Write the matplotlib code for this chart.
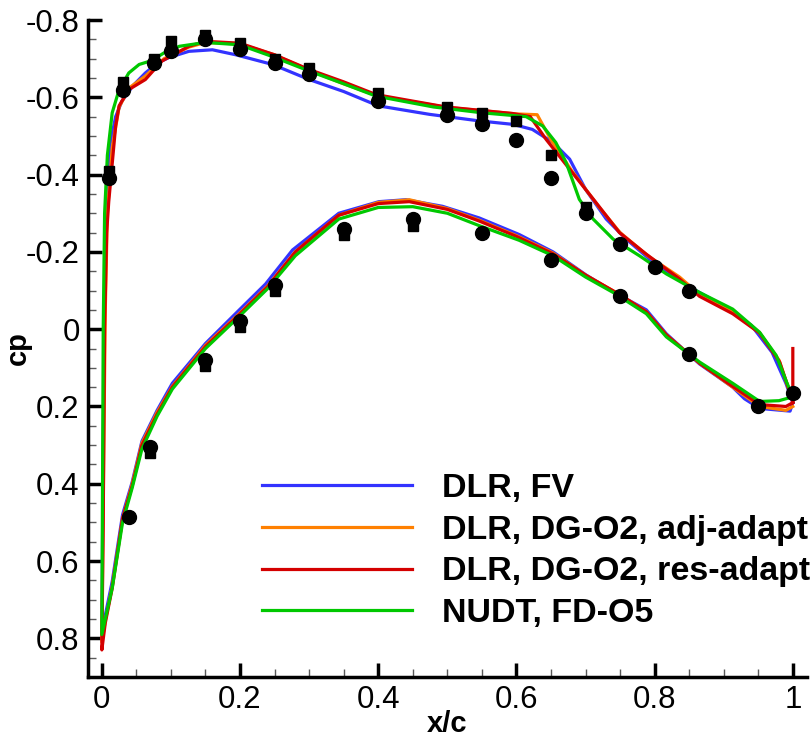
import numpy as np
import matplotlib
matplotlib.use('Agg')
import matplotlib.pyplot as plt
from matplotlib.ticker import MultipleLocator

plt.rcParams['font.family'] = ['Liberation Sans', 'DejaVu Sans']

# ---- CFD curves: (x/c, cp) from leading edge to trailing edge ----
fv_up_x = [0.0, 0.002, 0.004, 0.007, 0.012, 0.02, 0.029, 0.045, 0.063, 0.08, 0.097, 0.126, 0.16, 0.194,
           0.247, 0.3, 0.35, 0.4, 0.474, 0.546, 0.595, 0.623, 0.653, 0.677, 0.7, 0.73, 0.759, 0.798,
           0.85, 0.9, 0.94, 0.97, 0.99, 1.0]
fv_up_cp = [0.79, 0.3, -0.1, -0.35, -0.48, -0.55, -0.59, -0.63, -0.663, -0.688, -0.703, -0.719, -0.723, -0.71,
            -0.685, -0.646, -0.615, -0.578, -0.556, -0.539, -0.53, -0.517, -0.483, -0.44, -0.362, -0.285, -0.233, -0.173,
            -0.11, -0.06, -0.01, 0.06, 0.14, 0.19]
fv_lo_x = [0.0, 0.005, 0.015, 0.03, 0.044, 0.058, 0.08, 0.102, 0.15, 0.199, 0.237, 0.276, 0.343, 0.401, 0.44,
           0.493, 0.546, 0.604, 0.653, 0.701, 0.749, 0.788, 0.817, 0.865, 0.913, 0.93, 0.952, 0.996, 1.0]
fv_lo_cp = [0.79, 0.74, 0.653, 0.48, 0.395, 0.29, 0.21, 0.14, 0.037, -0.05, -0.117, -0.205, -0.3, -0.33, -0.335,
            -0.318, -0.288, -0.245, -0.2, -0.14, -0.088, -0.05, 0.012, 0.09, 0.15, 0.18, 0.205, 0.212, 0.19]

adj_up_x = [0.0, 0.002, 0.005, 0.008, 0.015, 0.025, 0.04, 0.063, 0.09, 0.126, 0.15, 0.2, 0.25, 0.3, 0.35, 0.4,
            0.5, 0.6, 0.63, 0.65, 0.68, 0.72, 0.75, 0.79, 0.836, 0.865, 0.913, 0.952, 0.98, 0.995, 1.0]
adj_up_cp = [0.81, 0.45, -0.05, -0.3, -0.47, -0.575, -0.625, -0.655, -0.7, -0.73, -0.742, -0.738, -0.71, -0.67,
             -0.635, -0.603, -0.574, -0.557, -0.555, -0.49, -0.41, -0.315, -0.25, -0.19, -0.135, -0.09, -0.045,
             0.01, 0.08, 0.16, 0.185]
adj_lo_x = [0.0, 0.005, 0.015, 0.03, 0.044, 0.058, 0.08, 0.102, 0.15, 0.2, 0.24, 0.28, 0.343, 0.4, 0.445, 0.5,
            0.546, 0.6, 0.653, 0.7, 0.749, 0.788, 0.817, 0.865, 0.913, 0.952, 0.99, 1.0]
adj_lo_cp = [0.81, 0.755, 0.665, 0.49, 0.4, 0.295, 0.215, 0.148, 0.042, -0.042, -0.112, -0.2, -0.295, -0.328,
             -0.335, -0.312, -0.282, -0.242, -0.197, -0.14, -0.09, -0.045, 0.015, 0.088, 0.15, 0.2, 0.21, 0.2]

res_up_x = [0.0, 0.002, 0.004, 0.007, 0.01, 0.02, 0.025, 0.039, 0.063, 0.087, 0.126, 0.15, 0.2, 0.25, 0.3, 0.35,
            0.397, 0.498, 0.595, 0.62, 0.643, 0.677, 0.715, 0.749, 0.788, 0.836, 0.865, 0.913, 0.952, 0.981,
            0.995, 1.0]
res_up_cp = [0.83, 0.5, 0.0, -0.25, -0.33, -0.526, -0.578, -0.62, -0.646, -0.694, -0.732, -0.745, -0.74, -0.71,
             -0.672, -0.64, -0.607, -0.575, -0.558, -0.55, -0.491, -0.414, -0.328, -0.25, -0.194, -0.13, -0.085,
             -0.04, 0.01, 0.085, 0.16, 0.19]
res_lo_x = [0.0, 0.005, 0.015, 0.03, 0.044, 0.058, 0.08, 0.102, 0.15, 0.2, 0.24, 0.28, 0.343, 0.4, 0.445, 0.5,
            0.546, 0.6, 0.653, 0.7, 0.749, 0.788, 0.817, 0.865, 0.913, 0.952, 0.99, 1.0, 1.0]
res_lo_cp = [0.83, 0.76, 0.67, 0.49, 0.405, 0.3, 0.22, 0.15, 0.045, -0.04, -0.11, -0.2, -0.295, -0.325, -0.33,
             -0.31, -0.28, -0.24, -0.195, -0.14, -0.09, -0.045, 0.015, 0.088, 0.148, 0.195, 0.2, 0.19, 0.05]

fd_up_x = [0.0, 0.001, 0.002, 0.004, 0.008, 0.015, 0.025, 0.039, 0.054, 0.072, 0.09, 0.112, 0.15, 0.199, 0.246,
           0.3, 0.35, 0.397, 0.48, 0.55, 0.614, 0.638, 0.657, 0.672, 0.691, 0.711, 0.74, 0.778, 0.817, 0.865,
           0.913, 0.952, 0.976, 0.991, 1.0]
fd_up_cp = [0.79, 0.4, 0.0, -0.3, -0.45, -0.56, -0.62, -0.663, -0.685, -0.695, -0.715, -0.732, -0.742, -0.736,
            -0.706, -0.668, -0.635, -0.603, -0.575, -0.56, -0.55, -0.526, -0.483, -0.431, -0.336, -0.285, -0.233,
            -0.19, -0.143, -0.095, -0.052, 0.008, 0.068, 0.137, 0.175]
fd_lo_x = [0.0, 0.005, 0.015, 0.03, 0.044, 0.058, 0.08, 0.102, 0.15, 0.2, 0.24, 0.28, 0.343, 0.4, 0.45, 0.5,
           0.546, 0.604, 0.653, 0.7, 0.74, 0.788, 0.817, 0.865, 0.913, 0.952, 0.98, 1.0]
fd_lo_cp = [0.79, 0.75, 0.67, 0.5, 0.41, 0.31, 0.225, 0.155, 0.05, -0.035, -0.105, -0.19, -0.285, -0.315, -0.317,
            -0.3, -0.268, -0.23, -0.19, -0.135, -0.095, -0.04, 0.02, 0.085, 0.14, 0.187, 0.185, 0.175]

# ---- experiment ----
exp_c_x = [0.01, 0.03, 0.075, 0.1, 0.15, 0.2, 0.25, 0.3, 0.4, 0.5, 0.55, 0.6, 0.65, 0.7, 0.75, 0.8, 0.85, 1.0,
           0.04, 0.07, 0.15, 0.2, 0.25, 0.35, 0.45, 0.55, 0.65, 0.75, 0.85, 0.95]
exp_c_cp = [-0.39, -0.62, -0.69, -0.72, -0.75, -0.725, -0.69, -0.66, -0.59, -0.555, -0.53, -0.49, -0.39, -0.3,
            -0.22, -0.16, -0.1, 0.165,
            0.485, 0.305, 0.08, -0.02, -0.115, -0.26, -0.285, -0.25, -0.18, -0.085, 0.065, 0.2]
exp_s_x = [0.01, 0.03, 0.075, 0.1, 0.15, 0.2, 0.25, 0.3, 0.4, 0.5, 0.55, 0.6, 0.65, 0.7,
           0.07, 0.15, 0.2, 0.25, 0.35, 0.45]
exp_s_cp = [-0.41, -0.64, -0.70, -0.745, -0.76, -0.74, -0.70, -0.675, -0.61, -0.575, -0.56, -0.54, -0.45, -0.315,
            0.32, 0.095, -0.005, -0.1, -0.245, -0.268]

labels = ['DLR, FV', 'DLR, DG-O2, adj-adapt', 'DLR, DG-O2, res-adapt', 'NUDT, FD-O5']
colors = ['#3333ff', '#ff8000', '#d40000', '#00c800']
curves = [(fv_up_x, fv_up_cp, fv_lo_x, fv_lo_cp),
          (adj_up_x, adj_up_cp, adj_lo_x, adj_lo_cp),
          (res_up_x, res_up_cp, res_lo_x, res_lo_cp),
          (fd_up_x, fd_up_cp, fd_lo_x, fd_lo_cp)]

fig = plt.figure(figsize=(8.12, 7.39), dpi=100)
ax = fig.add_axes([0.1084, 0.0839, 0.885, 0.889])

for (ux, ucp, lx, lcp), c, lab in zip(curves, colors, labels):
    xs = list(ux[::-1]) + list(lx)
    ys = list(ucp[::-1]) + list(lcp)
    ax.plot(xs, ys, color=c, lw=2.3, label=lab, zorder=2)

ax.plot(exp_s_x, exp_s_cp, 's', color='black', ms=7.5, zorder=3)
ax.plot(exp_c_x, exp_c_cp, 'o', color='black', ms=10, zorder=4)

ax.set_xlim(-0.02, 1.02)
ax.set_ylim(0.9, -0.8)
ax.xaxis.set_minor_locator(MultipleLocator(0.05))
ax.yaxis.set_minor_locator(MultipleLocator(0.05))
ax.set_xticks([0, 0.2, 0.4, 0.6, 0.8, 1.0])
ax.set_xticklabels(['0', '0.2', '0.4', '0.6', '0.8', '1'])
ax.set_yticks([-0.8, -0.6, -0.4, -0.2, 0, 0.2, 0.4, 0.6, 0.8])
ax.set_yticklabels(['-0.8', '-0.6', '-0.4', '-0.2', '0', '0.2', '0.4', '0.6', '0.8'])

for s in ['top', 'right']:
    ax.spines[s].set_visible(False)
for s in ['left', 'bottom']:
    ax.spines[s].set_linewidth(2.5)

ax.tick_params(which='major', direction='in', length=10, width=2.5, labelsize=22.5, pad=6)
ax.tick_params(which='minor', direction='in', length=6, width=1, color='0.35')

ax.set_xlabel('x/c', fontsize=21, fontweight='bold')
ax.xaxis.set_label_coords(0.5, -0.05)
ax.set_ylabel('cp', fontsize=21, fontweight='bold')
ax.yaxis.set_label_coords(-0.078, 0.5)

ax.legend(loc='upper left', bbox_to_anchor=(0.242, 0.311), frameon=False,
          prop={'weight': 'bold', 'size': 24.5}, handlelength=4.4, handletextpad=0.9,
          labelspacing=0.32, borderpad=0, borderaxespad=0)

fig.savefig('out.png', dpi=100)
